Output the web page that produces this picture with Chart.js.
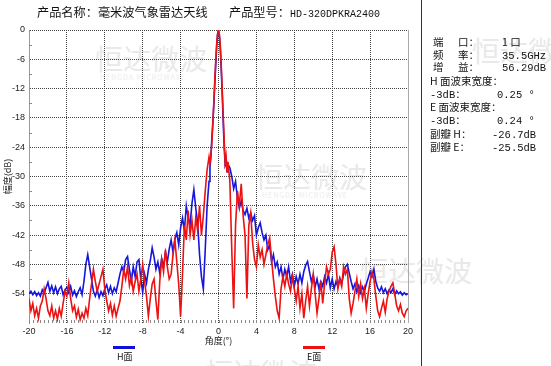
<!DOCTYPE html>
<html><head><meta charset="utf-8">
<script src="https://cdn.jsdelivr.net/npm/chart.js@4/dist/chart.umd.min.js"></script>
<style>
html,body{margin:0;padding:0;background:#fff;}
#wrap{position:relative;width:551px;height:366px;overflow:hidden;font-family:"Noto Sans CJK SC","Liberation Sans",sans-serif;color:#111;}
#c{position:absolute;left:0;top:0;}
.t{position:absolute;white-space:pre;line-height:1;}
.wm{position:absolute;white-space:pre;color:#e9e9e9;font-weight:normal;}
.wms{position:absolute;white-space:pre;color:#ededed;font-size:7px;letter-spacing:1px;}
.p{position:absolute;font-size:10.5px;white-space:pre;line-height:1;font-family:"Noto Sans CJK SC",sans-serif;color:#111;}
.m{font-family:"Liberation Mono",monospace;}
</style></head>
<body><div id="wrap">
<div class="wm" style="left:95px;top:38px;font-size:28px;">恒达微波</div>
<div class="wms" style="left:100px;top:72px;">HENGDA MICROWAVE</div>
<div class="wm" style="left:255px;top:156px;font-size:28px;">恒达微波</div>
<div class="wms" style="left:262px;top:190px;">HENGDA MICROWAVE</div>
<div class="wm" style="left:360px;top:250px;font-size:28px;">恒达微波</div>
<div class="wm" style="left:472px;top:30px;font-size:28px;">恒达微波</div>
<div class="wm" style="left:205px;top:352px;font-size:28px;">恒达微波</div>
<canvas id="c" width="551" height="366"></canvas>
<div class="t" style="left:37px;top:6px;font-size:12.2px;">产品名称：毫米波气象雷达天线</div>
<div class="t" style="left:229px;top:6px;font-size:12.2px;">产品型号：<span class="m" style="font-size:10px;">HD-320DPKRA2400</span></div>
<div style="position:absolute;left:421px;top:0;width:1px;height:366px;background:#333;"></div>
<div class="p" style="left:433px;top:37px;">端</div><div class="p" style="left:458px;top:37px;">口：</div><div class="p" style="left:502px;top:37px;">1 口</div>
<div class="p" style="left:433px;top:50px;">频</div><div class="p" style="left:458px;top:50px;">率：</div><div class="p m" style="left:502px;top:51px;">35.5GHz</div>
<div class="p" style="left:433px;top:62px;">增</div><div class="p" style="left:458px;top:62px;">益：</div><div class="p m" style="left:502px;top:63px;">56.29dB</div>
<div class="p" style="left:430px;top:76px;">H 面波束宽度：</div>
<div class="p" style="left:430px;top:89px;"><span class="m">-3dB</span>：</div><div class="p m" style="left:497px;top:90px;">0.25 °</div>
<div class="p" style="left:430px;top:102px;">E 面波束宽度：</div>
<div class="p" style="left:430px;top:115px;"><span class="m">-3dB</span>：</div><div class="p m" style="left:497px;top:116px;">0.24 °</div>
<div class="p" style="left:430px;top:129px;">副瓣 H：</div><div class="p m" style="left:492px;top:130px;">-26.7dB</div>
<div class="p" style="left:430px;top:142px;">副瓣 E：</div><div class="p m" style="left:492px;top:143px;">-25.5dB</div>
<div style="position:absolute;left:113px;top:346px;width:22px;height:3px;background:#1010dd;"></div>
<div class="t" style="left:117px;top:352px;font-size:9px;">H面</div>
<div style="position:absolute;left:303px;top:346px;width:22px;height:3px;background:#ee1111;"></div>
<div class="t" style="left:307px;top:352px;font-size:9px;">E面</div>
</div>
<script>
const angles = [
-20,-19.8,-19.6,-19.4,-19.2,-19,-18.8,-18.6,-18.4,-18.2,
-18,-17.8,-17.6,-17.4,-17.2,-17,-16.8,-16.6,-16.4,-16.2,
-16,-15.8,-15.6,-15.4,-15.2,-15,-14.8,-14.6,-14.4,-14.2,
-14,-13.8,-13.6,-13.4,-13.2,-13,-12.8,-12.6,-12.4,-12.2,
-12,-11.8,-11.6,-11.4,-11.2,-11,-10.8,-10.6,-10.4,-10.2,
-10,-9.8,-9.6,-9.4,-9.2,-9,-8.8,-8.6,-8.4,-8.2,
-8,-7.8,-7.6,-7.4,-7.2,-7,-6.8,-6.6,-6.4,-6.2,
-6,-5.8,-5.6,-5.4,-5.2,-5,-4.8,-4.6,-4.4,-4.2,
-4,-3.8,-3.6,-3.4,-3.2,-3,-2.8,-2.6,-2.4,-2.2,
-2,-1.8,-1.6,-1.4,-1.2,
-1,-0.9,-0.8,-0.7,-0.6,-0.5,-0.4,-0.3,-0.2,-0.1,
0,0.1,0.2,0.3,0.4,0.5,0.6,0.7,0.8,0.9,1,
1.2,1.4,1.6,1.8,2,2.2,2.4,2.6,2.8,3,
3.2,3.4,3.6,3.8,4,4.2,4.4,4.6,4.8,5,
5.2,5.4,5.6,5.8,6,6.2,6.4,6.6,6.8,7,
7.2,7.4,7.6,7.8,8,8.2,8.4,8.6,8.8,9,
9.2,9.4,9.6,9.8,10,10.2,10.4,10.6,10.8,11,
11.2,11.4,11.6,11.8,12,12.2,12.4,12.6,12.8,13,
13.2,13.4,13.6,13.8,14,14.2,14.4,14.6,14.8,15,
15.2,15.4,15.6,15.8,16,16.2,16.4,16.6,16.8,17,
17.2,17.4,17.6,17.8,18,18.2,18.4,18.6,18.8,19,
19.2,19.4,19.6,19.8,20
];
const hPlane = [
-54,-53.5,-54.2,-53.6,-54.4,-53.8,-54.5,-53.2,-53.9,-52.8,
-51.7,-53.5,-52.4,-53.8,-52.6,-54,-53,-52.5,-54.2,-53.2,
-52.7,-53.8,-52.5,-54.3,-53.4,-54.6,-53.6,-52.8,-54.2,-51.5,
-48,-46,-48.5,-51,-53.5,-54.5,-53.2,-54.8,-53.6,-54.4,
-53,-52.2,-53.8,-52.5,-54,-52.8,-53.6,-51.8,-50,-48.5,
-49.5,-47,-46.4,-49,-51.5,-48.5,-50.5,-47.5,-47,-51,
-53.7,-50,-51.8,-49,-47.2,-44.6,-46.5,-49,-47.5,-49.8,
-46.8,-48.5,-45.5,-47.5,-44.8,-43,-45.5,-42.8,-41.5,-44,
-40.5,-38.5,-41,-36,-38.5,-40,-35.5,-32.7,-36.5,-39.5,
-46,-50.5,-53,-45,-36,
-31,-28,-26,-22,-19,-15.5,-11.5,-7.5,-3.8,-1,
0,-1.3,-4.2,-8.5,-13.5,-19,-24,-27.5,-26.7,-29,-27.5,
-28.2,-30,-32.5,-31,-34.5,-36.5,-35,-37,-37.8,-36.5,
-38.5,-37.5,-39,-38,-42,-40.5,-39.5,-41.5,-43,-42,
-45,-44,-47.5,-46,-48.5,-47.5,-50,-48.5,-51,-49,
-50.5,-48.5,-51.5,-50,-52.5,-50.5,-52,-50,-51.8,-49.5,
-48.2,-47.4,-49.5,-51.5,-50.2,-52.6,-51,-53,-51.5,-52.5,
-50.5,-51.8,-50,-52.8,-51,-53,-51.5,-52.5,-50.8,-52,
-50,-48.5,-48,-49.8,-51.5,-53,-52,-53.6,-52.4,-53.8,
-52.6,-53.5,-52,-50.8,-49.5,-50.5,-49,-51.5,-52.8,-53.5,
-52.6,-53.8,-53,-54,-53.2,-53.8,-53,-54.2,-53.4,-54,
-53.6,-54.3,-53.8,-54.2,-54
];
const ePlane = [
-55,-57.5,-56,-58.5,-57,-59,-56.5,-55.5,-53,-55,
-57.5,-58.5,-56.5,-59,-57.5,-59.2,-57,-58.6,-56,-53.5,
-54.5,-51.8,-55,-57.5,-56.5,-58.8,-57.2,-59.3,-58,-59,
-57,-58.5,-55,-52,-49,-51.5,-53.5,-52,-50.5,-49,
-53,-55.5,-57.5,-56,-58.4,-56.5,-58.6,-57,-55.5,-52.5,
-49,-51,-48.5,-52.3,-50.5,-53.5,-51.5,-50,-53.5,-51,
-48,-51.5,-54.5,-58.6,-55,-52,-51,-55.5,-59.3,-51.5,
-47,-49.5,-45,-48.5,-51,-50,-46,-43,-47.5,-52,
-58.7,-50,-40,-43,-37,-42,-39,-43,-38.5,-41,
-36,-42,-38,-33,-28.6,
-26,-27.5,-25.5,-23,-19.5,-15,-10.5,-6.5,-3,-0.8,
0,-1,-3.6,-7.8,-12.5,-17.5,-22.5,-27,-25.8,-29,-27,
-31,-45,-57,-40,-33,-36,-31.5,-38,-42,-55,
-40,-37.5,-43.6,-47,-48.5,-44,-46.5,-45,-48,-46,
-44,-42.6,-47,-51,-54.6,-57.5,-59,-53,-50.5,-52.5,
-50,-52,-53.5,-50.5,-53,-55.5,-52.5,-57,-54,-59,
-55.5,-52.5,-56.5,-53,-50,-54,-58,-55,-51.5,-56,
-52,-48.5,-50,-49,-45.5,-44.4,-48,-53,-51,-52.5,
-48.5,-50,-49,-55,-58,-56,-53.5,-51,-54.5,-52,
-55,-53,-57,-54,-51.5,-49.5,-51,-54.5,-57.5,-58.7,
-57,-55.5,-57.8,-55,-53.5,-52.5,-51.8,-54,-56.5,-57.5,
-56.2,-58,-58.7,-57.5,-57
];
const xTicks = [-20,-16,-12,-8,-4,0,4,8,12,16,20];
const yTicks = [0,-6,-12,-18,-24,-30,-36,-42,-48,-54];

const pts = (vals) => angles.map((a, i) => ({x: a, y: vals[i]}));

const axisDeco = {
  id: 'axisDeco',
  beforeDatasetsDraw(chart) {
    const {ctx, chartArea: a, scales: {x, y}} = chart;
    ctx.save();
    ctx.strokeStyle = '#888';
    ctx.lineWidth = 1;
    ctx.beginPath();
    for (let k = 0; k <= 100; k++) {
      const v = -20 + k * 0.4;
      const px = Math.round(x.getPixelForValue(v)) + 0.5;
      ctx.moveTo(px, a.bottom);
      ctx.lineTo(px, a.bottom - 3);
    }
    for (let v = -57; v < 0; v += 6) {
      const py = Math.round(y.getPixelForValue(v)) + 0.5;
      ctx.moveTo(a.left, py);
      ctx.lineTo(a.left + 3, py);
    }
    ctx.stroke();
    ctx.strokeStyle = '#aaa';
    ctx.beginPath();
    const rx = Math.round(x.getPixelForValue(20)) + 0.5;
    ctx.moveTo(rx, a.top);
    ctx.lineTo(rx, a.bottom);
    ctx.stroke();
    ctx.restore();
  }
};

new Chart(document.getElementById('c'), {
  type: 'scatter',
  data: {
    datasets: [
      {label: 'E面', data: pts(ePlane), showLine: true, borderColor: '#ee1111', backgroundColor: '#ee1111', borderWidth: 1.6, pointRadius: 0, tension: 0},
      {label: 'H面', data: pts(hPlane), showLine: true, borderColor: '#1515dd', backgroundColor: '#1515dd', borderWidth: 1.6, pointRadius: 0, tension: 0}
    ]
  },
  options: {
    responsive: false,
    animation: false,
    events: [],
    layout: {padding: {left: 0, top: 30, right: 143, bottom: 16}},
    plugins: {legend: {display: false}, tooltip: {enabled: false}},
    scales: {
      x: {
        type: 'linear', min: -20, max: 20,
        afterBuildTicks: (s) => { s.ticks = xTicks.map(v => ({value: v})); },
        afterFit: (s) => { s.height = 27; },
        ticks: {font: {family: 'Liberation Sans', size: 9}, color: '#222', padding: 3, maxRotation: 0},
        grid: {drawTicks: false, color: (c) => (c.tick && (c.tick.value === -20 || c.tick.value === 20)) ? 'rgba(0,0,0,0)' : '#444', lineWidth: 1},
        border: {display: false, dash: [1, 1]},
        title: {display: true, text: '角度(°)', font: {family: 'Noto Sans CJK SC', size: 9}, color: '#222', padding: {top: 0, bottom: 4}}
      },
      y: {
        min: -60, max: 0,
        afterBuildTicks: (s) => { s.ticks = yTicks.map(v => ({value: v})); },
        afterFit: (s) => { s.width = 29; },
        ticks: {font: {family: 'Liberation Sans', size: 9}, color: '#222', padding: 4},
        grid: {drawTicks: false, color: '#444', lineWidth: 1},
        border: {display: true, color: '#999', width: 1, dash: [1, 1]},
        title: {display: true, text: '幅度(dB)', font: {family: 'Noto Sans CJK SC', size: 9}, color: '#222', padding: {top: 2, bottom: 0}}
      }
    }
  },
  plugins: [axisDeco]
});
</script>
</body></html>
